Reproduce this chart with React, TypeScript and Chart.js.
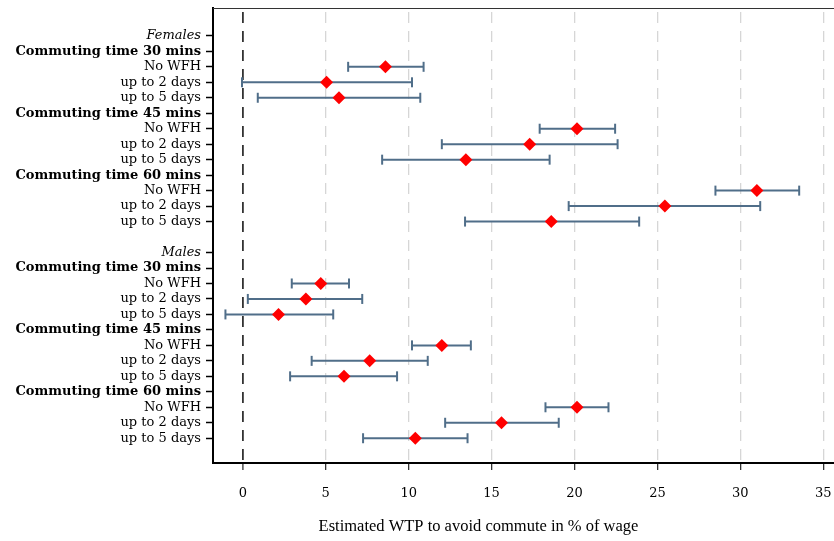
import { useEffect, useRef } from 'react';
import { Chart, registerables } from 'chart.js';

Chart.register(...registerables);

// ---- Data ----
const sexGroups = ['Females', 'Males'];
const commuteGroups = ['Commuting time 30 mins', 'Commuting time 45 mins', 'Commuting time 60 mins'];
const wfhLevels = ['No WFH', 'up to 2 days', 'up to 5 days'];

// order: 30 mins (No WFH, 2 days, 5 days), 45 mins (...), 60 mins (...)
const femaleEstimate = [8.6, 5.05, 5.8, 20.15, 17.3, 13.45, 31.0, 25.45, 18.6];
const femaleLower = [6.35, -0.05, 0.9, 17.9, 12.0, 8.4, 28.5, 19.65, 13.4];
const femaleUpper = [10.9, 10.2, 10.7, 22.45, 22.6, 18.5, 33.55, 31.2, 23.9];

const maleEstimate = [4.7, 3.8, 2.15, 12.0, 7.65, 6.1, 20.15, 15.6, 10.4];
const maleLower = [2.95, 0.3, -1.05, 10.2, 4.15, 2.85, 18.25, 12.2, 7.25];
const maleUpper = [6.4, 7.2, 5.45, 13.75, 11.15, 9.3, 22.05, 19.05, 13.55];

const xTickValues = [0, 5, 10, 15, 20, 25, 30, 35];
const xAxisTitle = 'Estimated WTP to avoid commute in % of wage';

// ---- Build rows ----
const rowLabels: string[] = [];
const rowKinds: string[] = [];
type Est = { row: number; est: number; lo: number; hi: number };
const estimates: Est[] = [];
const sexSeries = [
  [femaleEstimate, femaleLower, femaleUpper],
  [maleEstimate, maleLower, maleUpper],
];
sexGroups.forEach((sex, s) => {
  if (s > 0) {
    rowLabels.push('');
    rowKinds.push('blank');
  }
  rowLabels.push(sex);
  rowKinds.push('sex');
  commuteGroups.forEach((g, gi) => {
    rowLabels.push(g);
    rowKinds.push('group');
    wfhLevels.forEach((l, li) => {
      const k = gi * 3 + li;
      estimates.push({
        row: rowLabels.length,
        est: sexSeries[s][0][k],
        lo: sexSeries[s][1][k],
        hi: sexSeries[s][2][k],
      });
      rowLabels.push(l);
      rowKinds.push('level');
    });
  });
});

const barColor = '#506e89';
const pointColor = '#ff0000';
const FONT = 'DejaVu Serif';

const framePlugin = {
  id: 'frameAndTitle',
  afterDraw(chart: any) {
    const { ctx, chartArea } = chart;
    ctx.save();
    ctx.strokeStyle = '#333';
    ctx.lineWidth = 1.2;
    ctx.beginPath();
    ctx.moveTo(chartArea.left, chartArea.top + 0.5);
    ctx.lineTo(chart.width, chartArea.top + 0.5);
    ctx.stroke();
    // axis title (Stata centres it on the full graph region, not the plot area)
    ctx.fillStyle = '#000';
    ctx.font = '16.5px "Liberation Serif"';
    ctx.textAlign = 'center';
    ctx.textBaseline = 'middle';
    const cx = (chartArea.left + chartArea.right) / 2 - 45;
    ctx.fillText(xAxisTitle, cx, chart.height - 14);
    ctx.restore();
  },
};

export default function App() {
  const canvasRef = useRef<HTMLCanvasElement | null>(null);

  useEffect(() => {
    if (!canvasRef.current) return;
    const barDatasets = estimates.map((e) => ({
      type: 'scatter' as const,
      data: [
        { x: e.lo, y: e.row },
        { x: e.hi, y: e.row },
      ],
      showLine: true,
      borderColor: barColor,
      borderWidth: 2,
      pointStyle: 'line' as const,
      pointRotation: 90,
      pointRadius: 5,
      pointBorderWidth: 2,
      pointBorderColor: barColor,
      pointBackgroundColor: barColor,
      order: 2,
    }));
    const pointDataset = {
      type: 'scatter' as const,
      data: estimates.map((e) => ({ x: e.est, y: e.row })),
      pointStyle: 'rectRot' as const,
      pointRadius: 6.5,
      pointBackgroundColor: pointColor,
      pointBorderColor: pointColor,
      pointBorderWidth: 0,
      showLine: false,
      order: 1,
    };

    const tickRows = rowKinds.map((k, i) => (k === 'blank' ? -1 : i)).filter((i) => i >= 0);

    const chart = new Chart(canvasRef.current, {
      type: 'scatter',
      data: { datasets: [pointDataset, ...barDatasets] as any },
      plugins: [framePlugin],
      options: {
        animation: false,
        responsive: false,
        events: [],
        layout: { autoPadding: false, padding: { top: 8, left: 0, right: 0, bottom: 0 } },
        plugins: {
          legend: { display: false },
          tooltip: { enabled: false },
        },
        scales: {
          x: {
            type: 'linear',
            min: -1.8,
            max: 35.65,
            afterBuildTicks: (scale: any) => {
              scale.ticks = xTickValues.map((v) => ({ value: v }));
            },
            afterFit: (scale: any) => {
              scale.height = 78;
              scale.paddingLeft = 0;
              scale.paddingRight = 0;
            },
            ticks: {
              color: '#000',
              font: { family: FONT, size: 13 },
              padding: 16,
              callback: (v: any) => String(v),
            },
            grid: {
              color: (ctx: any) => (ctx.tick && ctx.tick.value === 0 ? '#333' : '#d6d6d6'),
              lineWidth: (ctx: any) => (ctx.tick && ctx.tick.value === 0 ? 1.8 : 1.3),
              tickColor: '#333',
              tickLength: 7,
              tickWidth: 1.3,
            },
            border: { color: '#000', width: 2, dash: [11, 8], dashOffset: 15 },
            title: { display: false },
          },
          y: {
            type: 'linear',
            reverse: true,
            min: -1.8,
            max: rowLabels.length - 1 + 1.6,
            afterBuildTicks: (scale: any) => {
              scale.ticks = tickRows.map((v) => ({ value: v }));
            },
            afterFit: (scale: any) => {
              scale.width = 213;
              scale.paddingTop = 0;
              scale.paddingBottom = 0;
            },
            ticks: {
              autoSkip: false,
              color: '#000',
              padding: 5,
              callback: (v: any) => rowLabels[v] ?? '',
              font: (ctx: any) => {
                const kind = ctx.tick ? rowKinds[ctx.tick.value] : 'level';
                return {
                  family: FONT,
                  size: 13,
                  style: kind === 'sex' ? 'italic' : 'normal',
                  weight: kind === 'group' ? 'bold' : 'normal',
                };
              },
            },
            grid: {
              drawOnChartArea: false,
              tickLength: 7,
              tickColor: '#000',
              tickWidth: 1.5,
            },
            border: { color: '#000', width: 2 },
          },
        },
      },
    });
    return () => chart.destroy();
  }, []);

  return (
    <div style={{ position: 'absolute', left: 0, top: 0, width: 834, height: 541, background: '#fff' }}>
      <canvas ref={canvasRef} width={834} height={541} style={{ display: 'block' }} />
    </div>
  );
}
